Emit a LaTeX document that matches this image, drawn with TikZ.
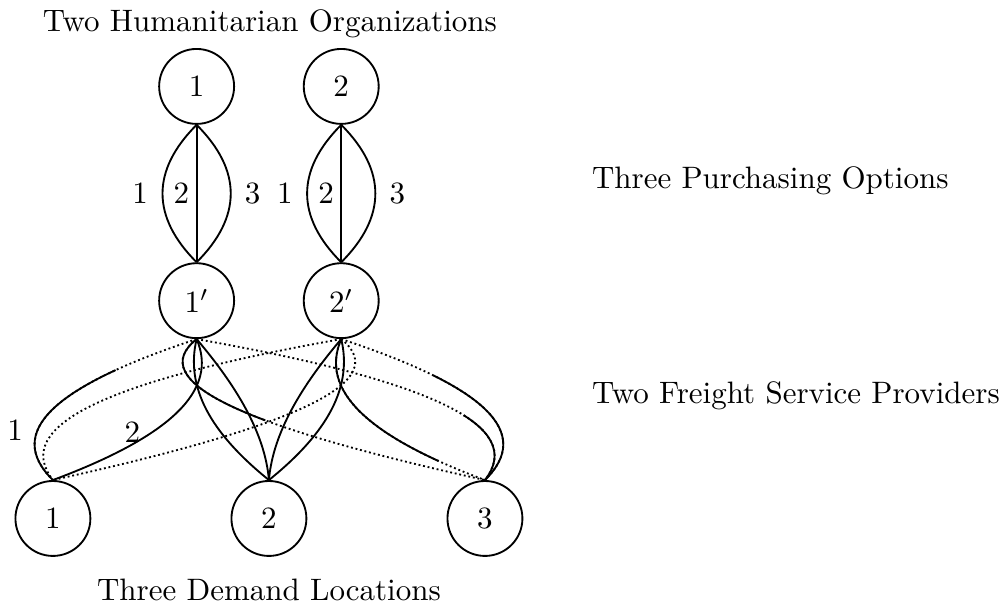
\documentclass[tikz,border=0pt]{standalone}
\usetikzlibrary{positioning}

\begin{document}
\begin{tikzpicture}[
  org/.style={draw, circle, line width=0.6pt, minimum size=0.85cm, inner sep=0pt},
  link/.style={line width=0.6pt},
  dotlink/.style={line width=0.6pt, dash pattern=on 0.6pt off 0.9pt},
  solidafter/.style={postaction={draw, link, dash pattern=on 400pt off #1, dash phase=400pt}},
  solidupto/.style={postaction={draw, link, dash pattern=on #1 off 400pt}},
  lbl/.style={inner sep=1pt}]
\useasboundingbox (0,0) rectangle (11.33,-6.92);

% organizations, purchasing points, demand points
\node[org] (ho1) at (2.23,-0.98) {1};
\node[org] (ho2) at (3.87,-0.98) {2};
\node[org] (po1) at (2.23,-3.41) {$1'$};
\node[org] (po2) at (3.87,-3.41) {$2'$};
\node[org] (dl1) at (0.60,-5.88) {1};
\node[org] (dl2) at (3.05,-5.88) {2};
\node[org] (dl3) at (5.50,-5.88) {3};

% tier names
\node[anchor=base] (hotitle) at (3.06,-0.36) {Two Humanitarian Organizations};
\node[anchor=base west] (potitle) at (6.59,-2.14) {Three Purchasing Options};
\node[anchor=base west] (fstitle) at (6.59,-4.58) {Two Freight Service Providers};
\node[anchor=base] (dltitle) at (3.05,-6.81) {Three Demand Locations};

% purchasing links
\foreach \i in {1,2} {
  \draw[link] (ho\i.south) to[bend right=45, looseness=1.2] node[lbl, left=3.4pt] {1} (po\i.north);
  \draw[link] (ho\i.south) -- node[lbl, left=1.1pt] {2} (po\i.north);
  \draw[link] (ho\i.south) to[bend left=45, looseness=1.2] node[lbl, right=3.3pt] {3} (po\i.north);
}

% freight links into demand point 1
\draw[dotlink, solidafter=28pt] (po1.south) .. controls +(-1.64,-0.54) and +(-0.55,0.54) .. node[pos=0.65, lbl, left=3.4pt] {1} (dl1.north);
\draw[link] (po1.south) .. controls +(0.25,-0.58) and +(1.34,0.50) .. node[pos=0.72, lbl, above=-1.3pt, xshift=-1pt] {2} (dl1.north);
\draw[dotlink] (po2.south) .. controls +(-2.65,-0.47) and +(-0.48,0.62) .. (dl1.north);
\draw[dotlink] (po2.south) .. controls +(0.60,-0.48) and +(2.77,0.61) .. (dl1.north);

% freight links into demand point 2
\draw[link] (po1.south) .. controls +(-0.13,-0.54) and +(-0.67,0.54) .. (dl2.north);
\draw[link] (po1.south) .. controls +(0.51,-0.60) and +(-0.04,0.48) .. (dl2.north);
\draw[link] (po2.south) .. controls +(0.13,-0.54) and +(0.67,0.54) .. (dl2.north);
\draw[link] (po2.south) .. controls +(-0.51,-0.60) and +(0.04,0.48) .. (dl2.north);

% freight links into demand point 3
\draw[dotlink, solidafter=32pt] (po2.south) .. controls +(1.64,-0.54) and +(0.55,0.54) .. (dl3.north);
\draw[dotlink, solidupto=56pt] (po2.south) .. controls +(-0.25,-0.58) and +(-1.34,0.50) .. (dl3.north);
\draw[dotlink, solidafter=90pt] (po1.south) .. controls +(2.65,-0.47) and +(0.48,0.62) .. (dl3.north);
\draw[dotlink, solidupto=43pt] (po1.south) .. controls +(-0.60,-0.48) and +(-2.77,0.61) .. (dl3.north);
\end{tikzpicture}
\end{document}
